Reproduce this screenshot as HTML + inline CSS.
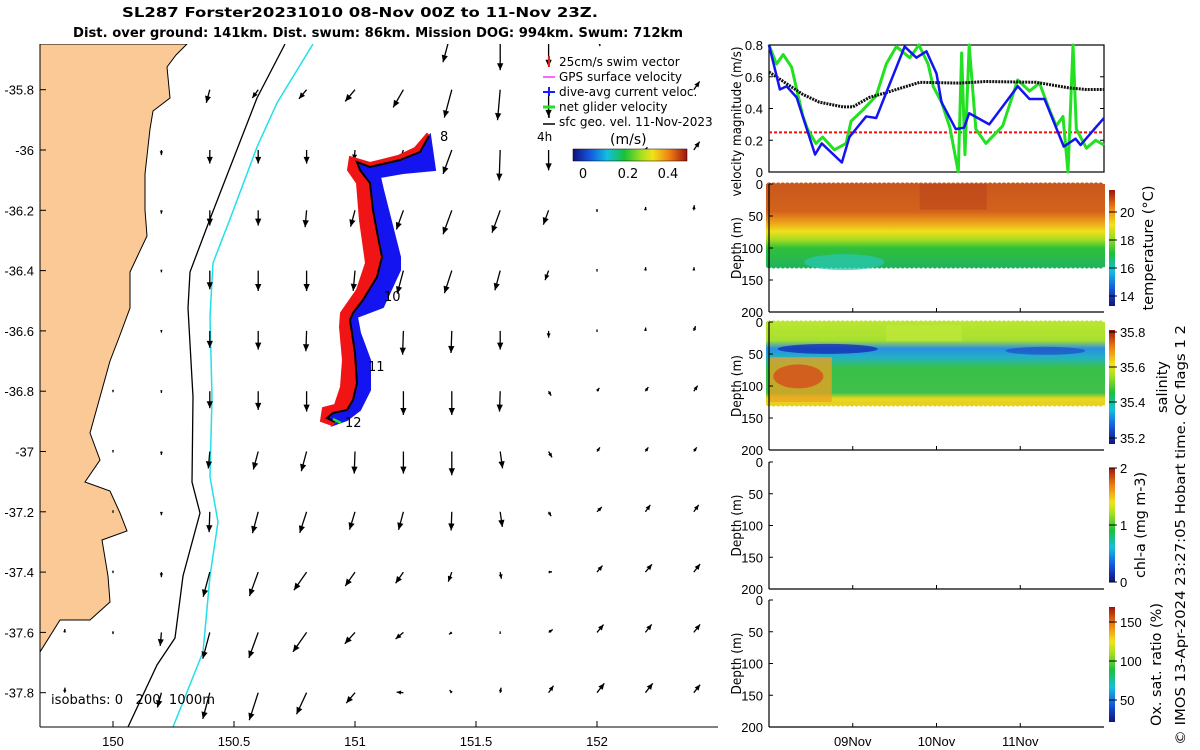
<!DOCTYPE html>
<html><head><meta charset="utf-8">
<style>
body{margin:0;background:#fff;}
svg{display:block;font-family:"Liberation Sans","DejaVu Sans",sans-serif;}
.dj{font-family:"DejaVu Sans","Liberation Sans",sans-serif;}
</style></head>
<body>
<svg id="fig" width="1200" height="750" viewBox="0 0 1200 750" xmlns="http://www.w3.org/2000/svg">
<defs>
 <linearGradient id="cmap" x1="0" y1="1" x2="0" y2="0">
  <stop offset="0" stop-color="#12137a"/><stop offset="0.15" stop-color="#1458e0"/><stop offset="0.3" stop-color="#12bfe0"/>
  <stop offset="0.45" stop-color="#19c03a"/><stop offset="0.6" stop-color="#a6e01e"/><stop offset="0.7" stop-color="#f2e21a"/>
  <stop offset="0.85" stop-color="#ee7d12"/><stop offset="1" stop-color="#9c1410"/>
 </linearGradient>
 <linearGradient id="cmapH" x1="0" y1="0" x2="1" y2="0">
  <stop offset="0" stop-color="#12137a"/><stop offset="0.15" stop-color="#1458e0"/><stop offset="0.3" stop-color="#12bfe0"/>
  <stop offset="0.45" stop-color="#19c03a"/><stop offset="0.6" stop-color="#a6e01e"/><stop offset="0.7" stop-color="#f2e21a"/>
  <stop offset="0.85" stop-color="#ee7d12"/><stop offset="1" stop-color="#9c1410"/>
 </linearGradient>
 <linearGradient id="tempG" x1="0" y1="0" x2="0" y2="1">
  <stop offset="0" stop-color="#c9581c"/><stop offset="0.33" stop-color="#d4621c"/><stop offset="0.45" stop-color="#ec9a1c"/>
  <stop offset="0.57" stop-color="#f0e01c"/><stop offset="0.67" stop-color="#a4dc22"/><stop offset="0.77" stop-color="#2fc03a"/>
  <stop offset="1" stop-color="#22b45a"/>
 </linearGradient>
 <linearGradient id="salG" x1="0" y1="0" x2="0" y2="1">
  <stop offset="0" stop-color="#b8e630"/><stop offset="0.22" stop-color="#a8e030"/><stop offset="0.32" stop-color="#2a8ee0"/>
  <stop offset="0.42" stop-color="#22b0c8"/><stop offset="0.55" stop-color="#38c048"/><stop offset="0.85" stop-color="#40c04a"/>
  <stop offset="0.92" stop-color="#e8d820"/><stop offset="1" stop-color="#e8d020"/>
 </linearGradient>
 <clipPath id="mapclip"><rect x="40" y="44" width="678" height="683"/></clipPath>
</defs>

<text class="dj" x="122" y="17" font-size="13" font-weight="bold" textLength="476" lengthAdjust="spacingAndGlyphs">SL287 Forster20231010 08-Nov 00Z to 11-Nov 23Z.</text>
<text class="dj" x="73" y="37" font-size="13" font-weight="bold" textLength="610" lengthAdjust="spacingAndGlyphs">Dist. over ground: 141km. Dist. swum: 86km. Mission DOG: 994km. Swum: 712km</text>

<g id="map">
 <g clip-path="url(#mapclip)">
  <polygon id="land" fill="#fac995" stroke="#000" stroke-width="1"
   points="40,44 187,44 176,55 167,67 170,98 153,111 150,129 145,174 145,210 147,236 138,255 130,272 130,308 120,335 110,361 100,397 90,433 100,460 85,482 110,491 120,513 127,531 102,540 108,576 110,602 90,620 60,620 40,652"/>
  <polyline fill="none" stroke="#000" stroke-width="1.3"
   points="285,44 257,98 210,219 190,272 188,308 193,397 192,482 200,513 183,576 175,638 157,665 128,727"/>
  <polyline fill="none" stroke="#22e0e8" stroke-width="1.5"
   points="313,44 277,103 257,147 230,219 213,263 210,317 212,397 210,477 218,522 210,576 203,652 173,727"/>
  <g id="arrows"></g>
  <g id="track"></g>
 </g>
 <line x1="40" y1="727" x2="718" y2="727" stroke="#000"/>
 <line x1="40" y1="44" x2="40" y2="727" stroke="#000"/>
 <g id="mapticks" font-size="13"></g>
 <text class="dj" x="51" y="704" font-size="13" xml:space="preserve" textLength="164" lengthAdjust="spacingAndGlyphs">isobaths: 0   200  1000m</text>
 <g class="dj" font-size="12">
  <line x1="549" y1="56" x2="549" y2="67" stroke="#e02020" stroke-width="2"/><text x="559" y="66">25cm/s swim vector</text>
  <line x1="543" y1="77" x2="555" y2="77" stroke="#ff33ff" stroke-width="1.5"/><text x="559" y="81">GPS surface velocity</text>
  <line x1="543" y1="92" x2="555" y2="92" stroke="#1a1aff" stroke-width="2"/><line x1="549" y1="87" x2="549" y2="96" stroke="#1a1aff" stroke-width="2"/><text x="559" y="96">dive-avg current veloc.</text>
  <line x1="543" y1="107" x2="555" y2="107" stroke="#22e022" stroke-width="3"/><text x="559" y="111">net glider velocity</text>
  <line x1="543" y1="124" x2="555" y2="124" stroke="#000" stroke-width="1.5"/><line x1="549" y1="110" x2="549" y2="118" stroke="#000" stroke-width="1.5"/><text x="559" y="126">sfc geo. vel. 11-Nov-2023</text>
  <text x="537" y="141">4h</text>
  <text x="610" y="144" font-size="14">(m/s)</text>
  <rect x="573" y="149" width="114" height="12" fill="url(#cmapH)" stroke="#000" stroke-width="0.5"/>
  <text x="583" y="178" font-size="13" text-anchor="middle">0</text>
  <text x="628" y="178" font-size="13" text-anchor="middle">0.2</text>
  <text x="668" y="178" font-size="13" text-anchor="middle">0.4</text>
 </g>
 <g class="dj" font-size="13">
  <text x="440" y="141">8</text><text x="384" y="301">10</text><text x="368" y="371">11</text><text x="345" y="427">12</text>
 </g>
</g>

<g id="right" font-size="13"></g>
</svg>

<script>
// ---------- map data ----------
const gridLons = [149.8,150.0,150.2,150.4,150.6,150.8,151.0,151.2,151.4,151.6,151.8,152.0,152.2,152.4];
const gridLats = [-35.6,-35.8,-36.0,-36.2,-36.4,-36.6,-36.8,-37.0,-37.2,-37.4,-37.6,-37.8];
const speedRows = [
 [null,null,null,null,null,null,null,null,1.0,1.2,1.1,0.5,null,null],
 [null,null,null,0.4,0.3,0.35,0.45,0.6,0.85,0.9,0.8,null,null,0.3],
 [null,null,0.15,0.4,0.4,0.4,0.3,0.4,0.75,0.9,0.6,null,0.1,0.3],
 [null,null,0.1,0.45,0.45,0.5,0.5,0.6,0.75,0.7,0.45,0.05,0.1,0.15],
 [null,null,0.05,0.55,0.6,0.6,0.6,0.7,0.7,0.6,0.3,0.03,0.1,0.1],
 [null,null,0.05,0.5,0.55,0.6,0.6,0.7,0.65,0.55,0.2,0.03,0.1,0.15],
 [null,0.03,0.05,0.5,0.55,0.6,0.6,0.7,0.7,0.6,0.15,0.12,0.15,0.2],
 [null,0.03,0.1,0.5,0.55,0.6,0.65,0.65,0.7,0.5,0.2,0.15,0.15,0.15],
 [null,0.03,0.1,0.6,0.65,0.65,0.55,0.55,0.55,0.45,0.15,0.2,0.25,0.25],
 [null,0.03,0.15,0.75,0.75,0.65,0.5,0.4,0.3,0.2,0.1,0.25,0.3,0.3],
 [0.1,0.05,0.4,0.8,0.8,0.7,0.45,0.3,0.1,0.03,0.15,0.3,0.3,0.3],
 [0.15,null,0.45,0.8,0.85,0.7,0.4,0.2,0.1,0.15,0.25,0.35,0.35,0.3]
];
const dirRows = [
 [0,0,0,0,0,0,0,0,195,180,180,170,0,0],
 [0,0,0,195,215,220,220,210,195,185,180,0,0,35],
 [0,0,180,180,180,180,185,200,200,182,180,35,35,35],
 [0,0,180,180,180,185,195,200,200,200,200,180,5,5],
 [0,0,180,180,180,180,185,195,198,195,200,180,5,5],
 [0,0,180,180,180,182,180,182,182,180,180,180,5,20],
 [0,180,180,180,180,180,180,180,180,182,150,35,35,35],
 [0,180,180,185,195,195,182,180,180,172,150,35,35,35],
 [0,180,180,182,195,198,197,195,182,172,150,45,35,35],
 [0,180,180,195,200,215,215,215,200,170,85,40,40,38],
 [5,180,185,195,200,215,222,230,235,0,55,40,38,38],
 [5,0,195,195,198,205,220,275,320,10,35,38,38,38]
];
const trackLine = [[429,136],[420,152],[400,160],[370,167],[357,162],[360,170],[370,183],[373,210],[378,237],[382,257],[377,277],[363,300],[353,313],[350,320],[352,333],[355,353],[357,383],[353,400],[347,410],[333,413],[327,418],[335,422]];
const blueEdge = [[430,135],[435,170],[403,173],[380,177],[383,190],[400,257],[400,270],[383,307],[357,317],[360,333],[370,360],[370,390],[360,410],[347,420],[333,425]];
const redEdge = [[427,134],[415,148],[398,156],[370,163],[350,157],[348,170],[357,183],[360,220],[366,263],[357,290],[341,313],[340,327],[343,360],[341,387],[335,405],[323,408],[321,421],[332,425]];
const lonTicks = [150,150.5,151,151.5,152];
const latTicks = [-35.8,-36,-36.2,-36.4,-36.6,-36.8,-37,-37.2,-37.4,-37.6,-37.8];

const NS="http://www.w3.org/2000/svg";
function mk(tag,attrs,parent){const e=document.createElementNS(NS,tag);for(const k in attrs)e.setAttribute(k,attrs[k]);parent.appendChild(e);return e;}
const xLon = lon => 113 + (lon-150)*242;
const yLat = lat => 150 + (-36-lat)*301.5;
const ARROW_SCALE = 34;

const ag=document.getElementById('arrows');
gridLats.forEach((lat,i)=>{
 gridLons.forEach((lon,j)=>{
  const s=speedRows[i][j]; if(s==null) return;
  const d=dirRows[i][j]*Math.PI/180;
  const x0=xLon(lon), y0=yLat(lat);
  const dx=Math.sin(d)*s*ARROW_SCALE, dy=-Math.cos(d)*s*ARROW_SCALE;
  const x1=x0+dx, y1=y0+dy, L=Math.hypot(dx,dy)||1, ux=dx/L, uy=dy/L;
  const g=mk('g',{},ag);
  
  
  mk('line',{x1:x0,y1:y0,x2:x1,y2:y1,stroke:'#000','stroke-width':1.3},g);
  const h=Math.min(7,2+L*0.35), w=h*0.45;
  mk('polygon',{points:`${x1},${y1} ${x1-ux*h-uy*w},${y1-uy*h+ux*w} ${x1-ux*h+uy*w},${y1-uy*h-ux*w}`,fill:'#000'},g);
 });
});

const tg=document.getElementById('track');
const ptsStr=a=>a.map(p=>p.join(',')).join(' ');
let p=mk('polygon',{points:ptsStr(trackLine.concat(blueEdge.slice().reverse())),fill:'#1414f0',stroke:'#1414f0','stroke-width':2},tg);


p=mk('polygon',{points:ptsStr(trackLine.concat(redEdge.slice().reverse())),fill:'#f01414',stroke:'#f01414','stroke-width':2},tg);


p=mk('polyline',{points:ptsStr(trackLine),fill:'none',stroke:'#000','stroke-width':2},tg);


mk('line',{x1:333,y1:419,x2:341,y2:423,stroke:'#22e022','stroke-width':2.5},tg);

const mt=document.getElementById('mapticks');
lonTicks.forEach(v=>{const x=xLon(v);mk('line',{x1:x,y1:727,x2:x,y2:721,stroke:'#000'},mt);
 const t=mk('text',{x:x,y:746,'text-anchor':'middle'},mt);t.textContent=v;
 });
latTicks.forEach(v=>{const y=yLat(v);mk('line',{x1:40,y1:y,x2:46,y2:y,stroke:'#000'},mt);
 const t=mk('text',{x:34,y:y+5,'text-anchor':'end'},mt);t.textContent=v;
 });

// ---------- velocity time series ----------
const blackT=[0,0.2,0.4,0.6,0.885,1.0,1.2,1.4,1.8,2.27,2.59,3.19,3.58,3.78,4];
const blackV=[0.63,0.56,0.49,0.44,0.41,0.41,0.47,0.5,0.565,0.56,0.57,0.565,0.53,0.52,0.52];
const blueT=[0,0.13,0.21,0.33,0.55,0.63,0.87,0.96,1.16,1.28,1.4,1.62,1.76,1.88,2.0,2.06,2.23,2.33,2.39,2.63,2.97,3.11,3.29,3.52,3.66,3.72,3.9,4];
const blueV=[0.8,0.52,0.54,0.47,0.11,0.18,0.06,0.22,0.35,0.34,0.5,0.79,0.72,0.76,0.62,0.44,0.27,0.28,0.37,0.3,0.54,0.46,0.46,0.16,0.21,0.17,0.28,0.34];
const greenT=[0,0.09,0.17,0.27,0.4,0.46,0.56,0.64,0.78,0.92,0.98,1.12,1.28,1.4,1.52,1.68,1.79,1.9,1.96,2.06,2.16,2.26,2.3,2.34,2.39,2.47,2.59,2.79,2.97,3.11,3.23,3.35,3.43,3.51,3.57,3.63,3.67,3.79,3.9,4];
const greenV=[0.8,0.68,0.74,0.66,0.36,0.27,0.18,0.22,0.14,0.18,0.32,0.39,0.48,0.68,0.79,0.72,0.8,0.68,0.54,0.44,0.28,0.0,0.75,0.11,0.8,0.27,0.18,0.29,0.58,0.51,0.56,0.39,0.29,0.35,0.0,0.8,0.27,0.15,0.2,0.17];
const swimSpeed=[0.25];
const velTicks=[0,0.2,0.4,0.6,0.8];
const depthTicks=[0,50,100,150,200];
const dayTicks=[1,2,3], dayLabels=['09Nov','10Nov','11Nov'];

const R=document.getElementById('right');
const X0=769, X1=1104;
const xT=t=>X0+t*(X1-X0)/4;
const vTop=45, vBot=172;
const yV=v=>vBot-(v/0.8)*(vBot-vTop);

let ax=mk('rect',{x:X0,y:vTop,width:X1-X0,height:vBot-vTop,fill:'#fff',stroke:'#000','stroke-width':1.2},R);

const vc=mk('g',{},R);
const lineOf=(T,V)=>T.map((t,i)=>xT(t)+','+yV(V[i])).join(' ');
let l=mk('line',{x1:X0,y1:yV(swimSpeed[0]),x2:X1,y2:yV(swimSpeed[0]),stroke:'#f01010','stroke-width':2,'stroke-dasharray':'3,2'},vc);

l=mk('polyline',{points:lineOf(greenT,greenV),fill:'none',stroke:'#22e022','stroke-width':3,'stroke-linejoin':'round'},vc);

l=mk('polyline',{points:lineOf(blackT,blackV),fill:'none',stroke:'#111','stroke-width':3,'stroke-dasharray':'2,1'},vc);

l=mk('polyline',{points:lineOf(blueT,blueV),fill:'none',stroke:'#1414f0','stroke-width':2.5,'stroke-linejoin':'round'},vc);

velTicks.forEach(v=>{const y=yV(v);mk('line',{x1:X0,y1:y,x2:X0+4,y2:y,stroke:'#000'},R);mk('line',{x1:X1,y1:y,x2:X1-4,y2:y,stroke:'#000'},R);
 const t=mk('text',{x:X0-6,y:y+5,'text-anchor':'end'},R);t.textContent=v;
 });
let yl=mk('text',{transform:`translate(741,${(vTop+vBot)/2+13}) rotate(-90)`,'text-anchor':'middle','font-size':'13',class:'dj',textLength:'150',lengthAdjust:'spacingAndGlyphs'},R);
yl.textContent='velocity magnitude (m/s)';

const panels=[
 {name:'temperature',top:184,bot:312,cb:[190,306],lab:'temperature (°C)',labX:1153,labLen:125,ticks:[20,18,16,14],tickY:[212,240,268,296],fill:'url(#tempG)'},
 {name:'salinity',top:322,bot:450,cb:[330,444],lab:'salinity',labX:1167,labLen:52,ticks:['35.8','35.6','35.4','35.2'],tickY:[332,367,402,438],fill:'url(#salG)'},
 {name:'chl-a',top:462,bot:589,cb:[468,582],lab:'chl-a (mg m-3)',labX:1145,labLen:106,ticks:[2,1,0],tickY:[468,525,582],fill:null},
 {name:'oxygen',top:600,bot:727,cb:[607,722],lab:'Ox. sat. ratio (%)',labX:1161,labLen:123,ticks:[150,100,50],tickY:[622,661,700],fill:null}
];
const dataDepth=130;
panels.forEach((P,k)=>{
 const g=mk('g',{},R);
 
 const yD=d=>P.top+d/200*(P.bot-P.top);
 if(P.fill){
  mk('rect',{x:X0-3,y:yD(0),width:X1-X0+4,height:yD(dataDepth)-yD(0),fill:P.fill},g);
  for(let t=0;t<=4;t+=0.055){mk('circle',{cx:xT(t),cy:yD(0)+1,r:2.6,fill:k==0?'#c9581c':'#b8e630'},g);
   mk('circle',{cx:xT(t),cy:yD(dataDepth)-1,r:2.4,fill:k==0?'#22b45a':'#e8d020'},g);}
  if(k==0){mk('ellipse',{cx:xT(0.9),cy:yD(122),rx:40,ry:8,fill:'#28c8b8',opacity:0.7},g);
           mk('rect',{x:xT(1.8),y:yD(0),width:xT(2.6)-xT(1.8),height:yD(40)-yD(0),fill:'#b8401a',opacity:0.5},g);}
  if(k==1){
   mk('rect',{x:X0,y:yD(55),width:xT(0.75)-X0,height:yD(125)-yD(55),fill:'#f0a020',opacity:0.75},g);
   mk('ellipse',{cx:xT(0.35),cy:yD(85),rx:25,ry:12,fill:'#d8401a',opacity:0.7},g);
   mk('ellipse',{cx:xT(0.7),cy:yD(42),rx:50,ry:5,fill:'#1020b0',opacity:0.7},g);
   mk('ellipse',{cx:xT(3.3),cy:yD(45),rx:40,ry:4,fill:'#1830c0',opacity:0.5},g);
   mk('rect',{x:xT(1.4),y:yD(5),width:xT(2.3)-xT(1.4),height:yD(30)-yD(5),fill:'#c0e83a',opacity:0.7},g);
  }
 }
 mk('line',{x1:X0,y1:P.top,x2:X0,y2:P.bot,stroke:'#000','stroke-width':1.2},g);
 mk('line',{x1:X0,y1:P.bot,x2:X1,y2:P.bot,stroke:'#000','stroke-width':1.2},g);
 depthTicks.forEach(d=>{const y=yD(d);mk('line',{x1:X0,y1:y,x2:X0+4,y2:y,stroke:'#000'},g);
  const t=mk('text',{x:X0-6,y:y+5,'text-anchor':'end'},g);t.textContent=d;
  });
 dayTicks.forEach(d=>mk('line',{x1:xT(d),y1:P.bot,x2:xT(d),y2:P.bot-4,stroke:'#000'},g));
 const yt=mk('text',{transform:`translate(741,${(P.top+P.bot)/2}) rotate(-90)`,'text-anchor':'middle',class:'dj','font-size':'13',textLength:'62',lengthAdjust:'spacingAndGlyphs'},g);
 yt.textContent='Depth (m)';
 const cb=mk('rect',{x:1109,y:P.cb[0],width:6,height:P.cb[1]-P.cb[0],fill:'url(#cmap)'},g);
 
 P.ticks.forEach((v,i)=>{mk('line',{x1:1109,y1:P.tickY[i],x2:1117,y2:P.tickY[i],stroke:'#000'},g);
  const t=mk('text',{x:1120,y:P.tickY[i]+5},g);t.textContent=v;
  });
 const cl=mk('text',{transform:`translate(${P.labX},${(P.cb[0]+P.cb[1])/2}) rotate(-90)`,'text-anchor':'middle','font-size':'14',class:'dj',textLength:P.labLen,lengthAdjust:'spacingAndGlyphs'},g);
 cl.textContent=P.lab;
});
dayTicks.forEach((d,i)=>{const t=mk('text',{x:xT(d),y:746,'text-anchor':'middle'},R);t.textContent=dayLabels[i];
 });
const cr=mk('text',{transform:'translate(1185,745) rotate(-90)','font-size':'13',class:'dj',textLength:'420',lengthAdjust:'spacingAndGlyphs'},R);
cr.textContent='© IMOS 13-Apr-2024 23:27:05 Hobart time. QC flags 1  2';

</script>
</body></html>
